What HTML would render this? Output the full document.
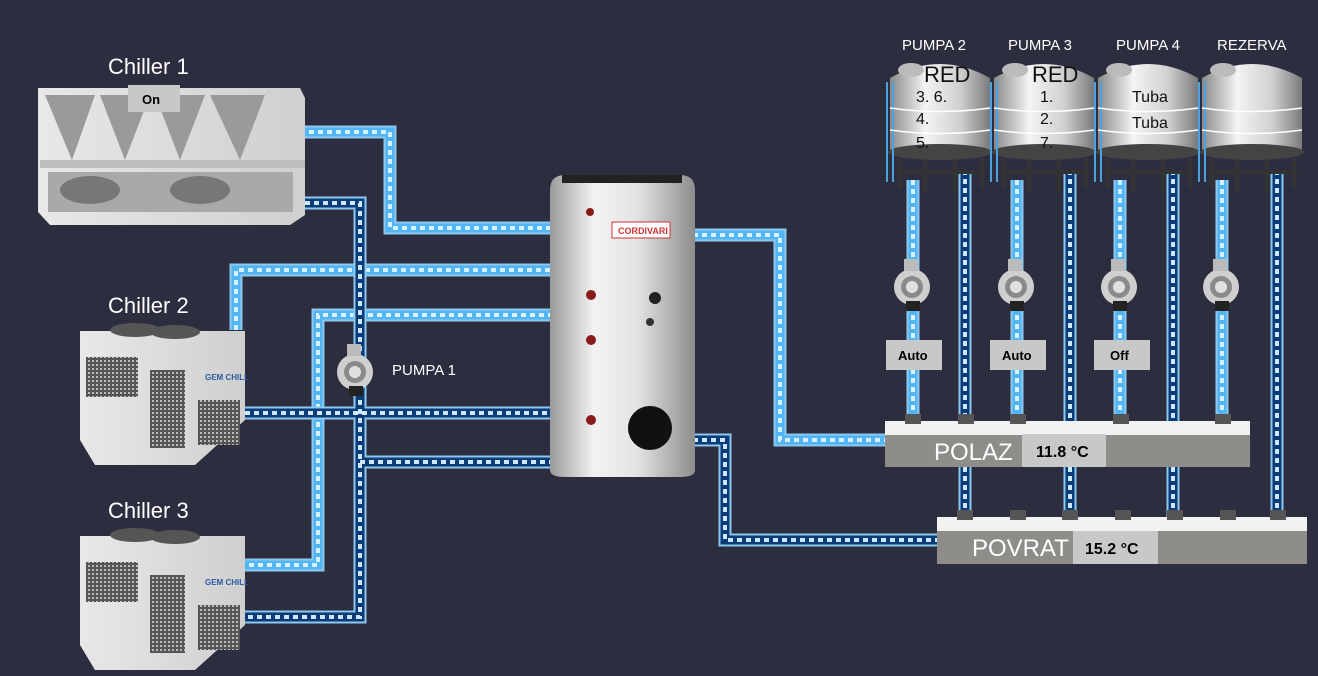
<!DOCTYPE html>
<html><head><meta charset="utf-8"><style>
html,body{margin:0;padding:0;background:#2c2e40;}
svg{display:block}
text{font-family:"Liberation Sans","DejaVu Sans",sans-serif}
</style></head><body>
<svg width="1318" height="676" viewBox="0 0 1318 676" xmlns="http://www.w3.org/2000/svg">
<defs>
<linearGradient id="tank" x1="0" x2="1"><stop offset="0" stop-color="#9a9a9a"/><stop offset="0.3" stop-color="#f2f2f2"/><stop offset="0.6" stop-color="#e4e4e4"/><stop offset="1" stop-color="#8d8d8d"/></linearGradient>
<linearGradient id="st" x1="0" x2="1"><stop offset="0" stop-color="#8a8a8a"/><stop offset="0.35" stop-color="#f4f4f4"/><stop offset="0.7" stop-color="#d0d0d0"/><stop offset="1" stop-color="#7a7a7a"/></linearGradient>
<linearGradient id="ch" x1="0" x2="1"><stop offset="0" stop-color="#e8e8e8"/><stop offset="1" stop-color="#cfcfcf"/></linearGradient>
<pattern id="grill" width="4" height="4" patternUnits="userSpaceOnUse"><rect width="4" height="4" fill="#555"/><rect width="2" height="2" fill="#bbb"/></pattern>
<g id="pump"><ellipse cx="0" cy="0" rx="18" ry="18" fill="#cfcfcf"/><circle cx="0" cy="0" r="11" fill="#8a8a8a"/><circle cx="0" cy="0" r="6" fill="#e0e0e0"/><rect x="-8" y="-28" width="14" height="12" fill="#bbb"/><rect x="-6" y="14" width="14" height="10" fill="#222"/></g>
</defs>
<rect width="1318" height="676" fill="#2c2e40"/>

<g fill="none" stroke-linejoin="miter">
<g stroke="#8fc8ee" stroke-width="13">
<path d="M300 132H390V228H552"/><path d="M236 330V270H552"/><path d="M240 565H318V315H552"/>
<path d="M693 235H780V440H888"/>
<path d="M913 180V425M1017 180V425M1120 180V425M1222 180V425"/>
</g>
<g stroke="#53b6f4" stroke-width="9">
<path d="M300 132H390V228H552"/><path d="M236 330V270H552"/><path d="M240 565H318V315H552"/>
<path d="M693 235H780V440H888"/>
<path d="M913 180V425M1017 180V425M1120 180V425M1222 180V425"/>
</g>
<g stroke="#d9f0ff" stroke-width="4" stroke-dasharray="5 4">
<path d="M300 132H390V228H552"/><path d="M236 330V270H552"/><path d="M240 565H318V315H552"/>
<path d="M693 235H780V440H888"/>
<path d="M913 180V425M1017 180V425M1120 180V425M1222 180V425"/>
</g>
<g stroke="#8fc8ee" stroke-width="13">
<path d="M305 203H360V617H240"/><path d="M245 413H552"/><path d="M360 462H552"/>
<path d="M693 440H725V540H940"/>
<path d="M965 170V520M1070 170V520M1173 170V520M1277 170V520"/>
</g>
<g stroke="#0a3c78" stroke-width="9">
<path d="M305 203H360V617H240"/><path d="M245 413H552"/><path d="M360 462H552"/>
<path d="M693 440H725V540H940"/>
<path d="M965 170V520M1070 170V520M1173 170V520M1277 170V520"/>
</g>
<g stroke="#cfe6ff" stroke-width="4" stroke-dasharray="5 4">
<path d="M305 203H360V617H240"/><path d="M245 413H552"/><path d="M360 462H552"/>
<path d="M693 440H725V540H940"/>
<path d="M965 170V520M1070 170V520M1173 170V520M1277 170V520"/>
</g>
</g>

<text x="108" y="74" fill="#fff" font-size="22">Chiller 1</text>
<path d="M38 88H300L305 98V215L290 225H50L38 212Z" fill="url(#ch)"/>
<path d="M45 95L95 95L72 160ZM100 95L150 95L125 160ZM155 95L205 95L180 160ZM210 95L265 95L240 160Z" fill="#9a9a9a"/>
<rect x="40" y="160" width="265" height="8" fill="#bdbdbd"/>
<rect x="48" y="172" width="245" height="40" fill="#a9a9a9"/>
<ellipse cx="90" cy="190" rx="30" ry="14" fill="#777"/><ellipse cx="200" cy="190" rx="30" ry="14" fill="#777"/>
<rect x="128" y="85" width="52" height="27" fill="#c8c8c8"/>
<text x="142" y="104" font-size="13" font-weight="bold">On</text>

<text x="108" y="313" fill="#fff" font-size="22">Chiller 2</text>
<text x="108" y="518" fill="#fff" font-size="22">Chiller 3</text>
<g id="c2">
<path d="M80 331H245V420L195 465H95L80 440Z" fill="url(#ch)"/>
<ellipse cx="135" cy="330" rx="25" ry="7" fill="#555"/><ellipse cx="175" cy="332" rx="25" ry="7" fill="#555"/>
<rect x="86" y="357" width="52" height="40" fill="url(#grill)"/><rect x="150" y="370" width="35" height="78" fill="url(#grill)"/><rect x="198" y="400" width="42" height="45" fill="url(#grill)"/>
<text x="205" y="380" fill="#2c5aa0" font-size="8" font-weight="bold">GEM CHILL</text>
</g>
<use href="#c2" transform="translate(0,205)"/>

<use href="#pump" transform="translate(355,372)"/>
<text x="392" y="375" fill="#fff" font-size="15">PUMPA 1</text>

<path d="M550 190Q550 175 565 175H680Q695 175 695 190V470Q695 477 680 477H565Q550 477 550 470Z" fill="url(#tank)"/>
<rect x="562" y="175" width="120" height="8" fill="#222"/>
<rect x="612" y="222" width="58" height="16" fill="#fff" stroke="#c33"/>
<text x="618" y="234" font-size="9" fill="#c33" font-weight="bold">CORDIVARI</text>
<circle cx="590" cy="212" r="4" fill="#8b1a1a"/><circle cx="591" cy="295" r="5" fill="#8b1a1a"/><circle cx="591" cy="340" r="5" fill="#8b1a1a"/><circle cx="591" cy="420" r="5" fill="#8b1a1a"/>
<circle cx="655" cy="298" r="6" fill="#222"/><circle cx="650" cy="322" r="4" fill="#333"/>
<circle cx="650" cy="428" r="22" fill="#111"/>

<g id="tk">
<path d="M890 78Q940 50 990 78V150H890Z" fill="url(#st)"/>
<ellipse cx="940" cy="152" rx="52" ry="8" fill="#444"/>
<path d="M900 158V188M925 160V192M955 160V192M982 158V188M895 172H985" stroke="#333" stroke-width="4"/>
<path d="M887 82V182M893 82V182" stroke="#4aa3e0" stroke-width="2"/>
<ellipse cx="911" cy="70" rx="13" ry="7" fill="#bbb"/>
<path d="M890 108Q940 115 990 108M890 130Q940 137 990 130" stroke="#fff" stroke-width="1.5" fill="none"/>
</g>
<use href="#tk" transform="translate(104,0)"/><use href="#tk" transform="translate(208,0)"/><use href="#tk" transform="translate(312,0)"/>
<g fill="#fff" font-size="15"><text x="902" y="50">PUMPA 2</text><text x="1008" y="50">PUMPA 3</text><text x="1116" y="50">PUMPA 4</text><text x="1217" y="50">REZERVA</text></g>
<g font-family="DejaVu Sans" fill="#111">
<text x="924" y="82" font-size="22">RED</text><text x="1032" y="82" font-size="22">RED</text>
<g font-size="16"><text x="916" y="102">3.  6.</text><text x="916" y="124">4.</text><text x="916" y="148">5.</text>
<text x="1040" y="102">1.</text><text x="1040" y="124">2.</text><text x="1040" y="148">7.</text>
<text x="1132" y="102">Tuba</text><text x="1132" y="128">Tuba</text></g></g>

<use href="#pump" transform="translate(912,287)"/><use href="#pump" transform="translate(1016,287)"/><use href="#pump" transform="translate(1119,287)"/><use href="#pump" transform="translate(1221,287)"/>
<g font-size="13" font-weight="bold"><rect x="886" y="340" width="56" height="30" fill="#c8c8c8"/><text x="898" y="360">Auto</text>
<rect x="990" y="340" width="56" height="30" fill="#c8c8c8"/><text x="1002" y="360">Auto</text>
<rect x="1094" y="340" width="56" height="30" fill="#c8c8c8"/><text x="1110" y="360">Off</text></g>

<rect x="885" y="421" width="365" height="14" fill="#f2f2f2"/><rect x="885" y="435" width="365" height="32" fill="#8f8d8a"/>
<g fill="#555"><rect x="905" y="414" width="16" height="10"/><rect x="958" y="414" width="16" height="10"/><rect x="1010" y="414" width="16" height="10"/><rect x="1113" y="414" width="16" height="10"/><rect x="1215" y="414" width="16" height="10"/></g>
<text x="934" y="460" fill="#fff" font-size="24">POLAZ</text>
<rect x="1022" y="434" width="84" height="33" fill="#c8c8c8"/><text x="1036" y="457" font-size="16" font-weight="bold">11.8 °C</text>
<rect x="937" y="517" width="370" height="14" fill="#f2f2f2"/><rect x="937" y="531" width="370" height="33" fill="#8f8d8a"/>
<g fill="#555"><rect x="957" y="510" width="16" height="10"/><rect x="1010" y="510" width="16" height="10"/><rect x="1062" y="510" width="16" height="10"/><rect x="1115" y="510" width="16" height="10"/><rect x="1167" y="510" width="16" height="10"/><rect x="1220" y="510" width="16" height="10"/><rect x="1270" y="510" width="16" height="10"/></g>
<text x="972" y="556" fill="#fff" font-size="24">POVRAT</text>
<rect x="1073" y="531" width="85" height="33" fill="#c8c8c8"/><text x="1085" y="554" font-size="16" font-weight="bold">15.2 °C</text>
</svg>
</body></html>
